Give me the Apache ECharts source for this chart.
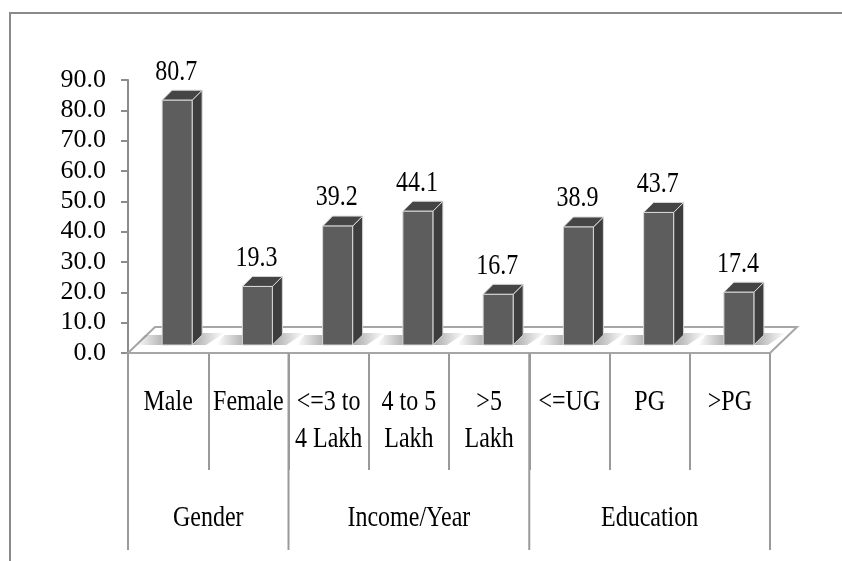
<!DOCTYPE html>
<html>
<head>
<meta charset="utf-8">
<script src="https://cdn.jsdelivr.net/npm/echarts@6/dist/echarts.min.js"></script>
<style>
  html, body { margin: 0; padding: 0; background: #fff; }
  #main { width: 842px; height: 561px; }
</style>
</head>
<body>
<div id="main"></div>
<script>
// data
var categories = ['Male', 'Female', '<=3 to\n4 Lakh', '4 to 5\nLakh', '>5\nLakh', '<=UG', 'PG', '>PG'];
var values = [80.7, 19.3, 39.2, 44.1, 16.7, 38.9, 43.7, 17.4];
var groupNames = ['Gender', 'Income/Year', 'Education'];
var groupSizes = [2, 3, 3];
var yTicks = [0, 10, 20, 30, 40, 50, 60, 70, 80, 90];

var FONT = '"Liberation Serif", "Times New Roman", serif';
var SY = 1.22;              // texts in the picture are tall and narrow
var DX = 10, DY = -10;      // bar depth
var FDX = 27, FDY = -26;    // floor depth

var groupData = [];
var start = 0;
for (var g = 0; g < groupNames.length; g++) {
    groupData.push([start, 0, groupSizes[g], g === groupNames.length - 1 ? 1 : 0]);
    start += groupSizes[g];
}

function tallText(str, x, y, va, lh) {
    return {
        type: 'text', x: x, y: y, scaleX: 1, scaleY: SY,
        style: {
            text: str, x: 0, y: 0, align: 'center', verticalAlign: va,
            fontFamily: FONT, fontSize: 24, lineHeight: lh || 30, fill: '#000'
        }
    };
}

var myChart = echarts.init(document.getElementById('main'));

var option = {
    animation: false,
    backgroundColor: '#fff',
    grid: { left: 128, right: 72, top: 80, bottom: 208 },
    graphic: [{
        type: 'rect',
        shape: { x: 10, y: 13, width: 900, height: 600 },
        style: { fill: 'none', stroke: '#8a8a8a', lineWidth: 2 },
        silent: true
    }],
    xAxis: {
        type: 'category',
        data: categories,
        axisLine: { show: false },
        axisTick: { show: true, length: 117, lineStyle: { color: '#9a9a9a', width: 2 } },
        axisLabel: { show: false }
    },
    yAxis: {
        type: 'value',
        min: yTicks[0], max: yTicks[yTicks.length - 1], interval: 10,
        splitLine: { show: false },
        axisLine: { show: true, lineStyle: { color: '#8c8c8c', width: 2 } },
        axisTick: { show: true, length: 7, lineStyle: { color: '#8c8c8c', width: 2 } },
        axisLabel: {
            margin: 22, fontFamily: FONT, fontSize: 26, color: '#000',
            formatter: function (v) { return v.toFixed(1); }
        }
    },
    series: [
        {
            // floor
            type: 'custom',
            data: [[0, 0]],
            z: 1,
            silent: true,
            renderItem: function (params, api) {
                var cs = params.coordSys;
                var y0 = cs.y + cs.height;
                var xl = cs.x, xr = cs.x + cs.width;
                return {
                    type: 'polygon',
                    shape: { points: [[xl, y0], [xl + FDX, y0 + FDY], [xr + FDX, y0 + FDY], [xr, y0]] },
                    style: { fill: '#fff', stroke: '#a6a6a6', lineWidth: 2 }
                };
            }
        },
        {
            // group separators and names
            type: 'custom',
            data: groupData,
            z: 2,
            silent: true,
            renderItem: function (params, api) {
                var s = api.value(0), n = api.value(2), last = api.value(3);
                var bw = api.size([1, 0])[0];
                var p = api.coord([s, 0]);
                var xl = p[0] - bw / 2, xr = xl + n * bw, y0 = p[1];
                var children = [{
                    type: 'line',
                    shape: { x1: xl, y1: y0, x2: xl, y2: y0 + 197 },
                    style: { stroke: '#9a9a9a', lineWidth: 2 }
                }, tallText(groupNames[params.dataIndex], (xl + xr) / 2, y0 + 165, 'middle')];
                if (last) {
                    children.push({
                        type: 'line',
                        shape: { x1: xr, y1: y0, x2: xr, y2: y0 + 197 },
                        style: { stroke: '#9a9a9a', lineWidth: 2 }
                    });
                }
                return { type: 'group', children: children };
            }
        },
        {
            // 3D bars with value labels and category names
            type: 'custom',
            data: values.map(function (v, i) { return [i, v]; }),
            z: 3,
            renderItem: function (params, api) {
                var i = api.value(0), v = api.value(1);
                var c = api.coord([i, v]);
                var b = api.coord([i, 0]);
                var w = 30;
                var x0 = c[0] + 9 - w / 2;
                var top = c[1] - 8, bot = b[1] - 8;
                var edge = { stroke: '#d8d8d8', lineWidth: 1 };
                return {
                    type: 'group',
                    children: [
                        {
                            type: 'polygon',
                            shape: { points: [[x0 - 26, bot], [x0 - 18, bot - 10], [x0 + 4, bot - 10], [x0, bot]] },
                            style: {
                                fill: new echarts.graphic.LinearGradient(0, 0, 1, 0, [
                                    { offset: 0, color: 'rgba(110,110,110,0)' },
                                    { offset: 1, color: 'rgba(110,110,110,0.6)' }
                                ])
                            }
                        },
                        {
                            type: 'polygon',
                            shape: { points: [[x0 + w, bot], [x0 + w + DX, bot - 12], [x0 + w + DX + 22, bot - 12], [x0 + w + 14, bot]] },
                            style: {
                                fill: new echarts.graphic.LinearGradient(0, 0, 1, 0, [
                                    { offset: 0, color: 'rgba(110,110,110,0.6)' },
                                    { offset: 1, color: 'rgba(110,110,110,0)' }
                                ])
                            }
                        },
                        {
                            type: 'polygon',
                            shape: { points: [[x0 + w, top], [x0 + w + DX, top + DY], [x0 + w + DX, bot + DY], [x0 + w, bot]] },
                            style: Object.assign({ fill: '#3d3d3d' }, edge)
                        },
                        {
                            type: 'polygon',
                            shape: { points: [[x0, top], [x0 + DX, top + DY], [x0 + w + DX, top + DY], [x0 + w, top]] },
                            style: Object.assign({ fill: '#454545' }, edge)
                        },
                        {
                            type: 'rect',
                            shape: { x: x0, y: top, width: w, height: bot - top },
                            style: Object.assign({ fill: '#5d5d5d' }, edge)
                        },
                        tallText(v.toFixed(1), x0 + w / 2 - 1, top + DY, 'bottom'),
                        tallText(categories[i], b[0], b[1] + 30, 'top', 31)
                    ]
                };
            }
        }
    ]
};

myChart.setOption(option);
</script>
</body>
</html>
